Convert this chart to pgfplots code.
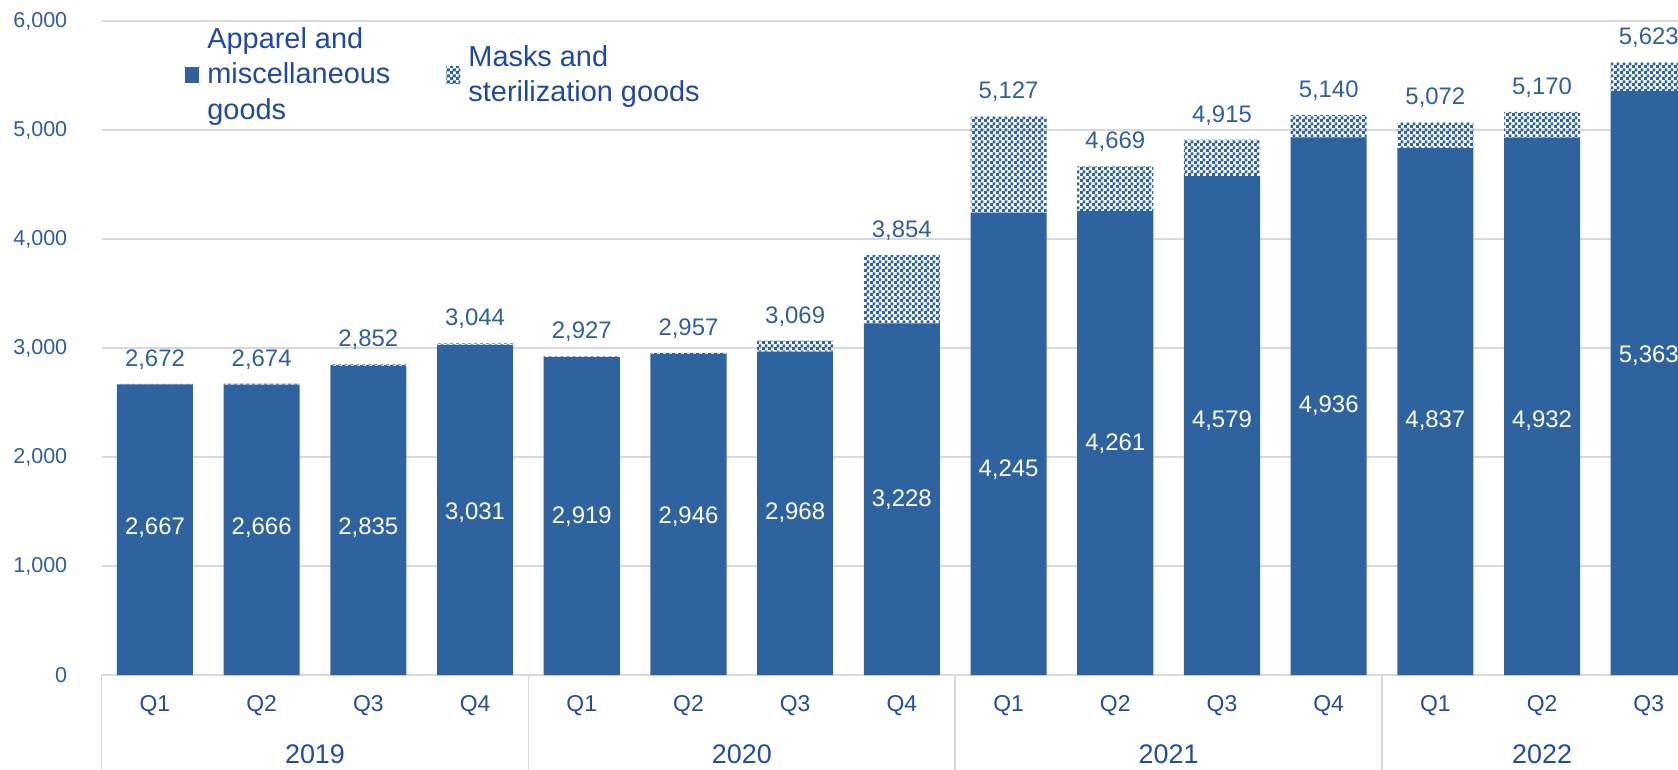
\documentclass[border=0pt]{standalone}
\usepackage{fontspec}
\setmainfont{Liberation Sans}
\usepackage{pgfplots}
\pgfplotsset{compat=1.18}
\usepackage{pgfplotstable}
\usetikzlibrary{patterns}

\definecolor{barblue}{RGB}{47,99,160}
\definecolor{labelblue}{RGB}{47,95,158}
\definecolor{catblue}{RGB}{33,76,160}
\definecolor{legblue}{RGB}{31,72,162}
\definecolor{gridgray}{RGB}{217,217,217}

\pgfdeclarepatternformonly{smallchecker}{\pgfpointorigin}{\pgfpoint{3bp}{3bp}}{\pgfpoint{3bp}{3bp}}{%
  \pgfpathrectangle{\pgfpointorigin}{\pgfpoint{1.7bp}{1.7bp}}%
  \pgfpathrectangle{\pgfpoint{1.5bp}{1.5bp}}{\pgfpoint{1.7bp}{1.7bp}}%
  \pgfusepath{fill}}

% x, apparel, masks, total, height of the inner label
\pgfplotstableread{
x apparel masks total ly
0 2667 5 2672 1356
1 2666 8 2674 1356
2 2835 17 2852 1356
3 3031 13 3044 1493
4 2919 8 2927 1454
5 2946 11 2957 1454
6 2968 101 3069 1493
7 3228 626 3854 1611
8 4245 882 5127 1886
9 4261 408 4669 2122
10 4579 336 4915 2338
11 4936 204 5140 2475
12 4837 235 5072 2338
13 4932 238 5170 2338
14 5363 260 5623 2927
}\datatable

\begin{document}
\begin{tikzpicture}
\begin{axis}[
  name=ax,
  scale only axis,
  width=788.2bp, height=326.8bp,
  ybar stacked,
  bar width=0.713,
  xmin=-0.5, xmax=14.274,
  ymin=0, ymax=6000,
  ytick={0,1000,...,6000},
  xtick={0,...,14},
  xticklabels={Q1,Q2,Q3,Q4,Q1,Q2,Q3,Q4,Q1,Q2,Q3,Q4,Q1,Q2,Q3},
  major tick length=0pt,
  axis line style={draw=none},
  ymajorgrids,
  major grid style={gridgray, line width=0.9bp},
  clip=false,
  /pgf/number format/.cd, 1000 sep={,}, assume math mode=true,
  /pgfplots/.cd,
  yticklabel style={font=\fontsize{10.8}{12}\selectfont, text=labelblue, anchor=east, inner sep=0pt, xshift=-17bp},
  xticklabel style={font=\fontsize{11.5}{13}\selectfont, text=catblue, anchor=center, inner sep=0pt, yshift=-15.5bp},
  legend style={at={(axis description cs:0.0529,0.918)}, anchor=west, draw=none, fill=none,
    inner sep=0pt, font=\fontsize{14.5}{17.7}\selectfont, text=legblue,
    nodes={align=left, inner xsep=4bp, inner ysep=1bp},
    /tikz/every even column/.append style={column sep=24bp}},
  legend columns=2,
  legend cell align=left,
  legend image code/.code={\fill[#1] (0bp,-4.2bp) rectangle (7bp,4.2bp);},
]
\addplot[fill=barblue, draw=none] table[x=x, y=apparel] {\datatable};
\addplot[pattern=smallchecker, pattern color=barblue, draw=none] table[x=x, y=masks] {\datatable};
\legend{{Apparel and\\miscellaneous\\goods},{Masks and\\sterilization goods}}

\foreach \s in {-0.5,3.5,7.5,11.5}{
  \edef\tmp{\noexpand\draw[gridgray, line width=0.9bp] (axis cs:\s,0) -- ([yshift=-47.5bp]axis cs:\s,0);}\tmp
}
\node[font=\fontsize{13.5}{15}\selectfont, text=catblue, inner sep=0pt, yshift=-39.5bp] at (axis cs:1.5,0) {2019};
\node[font=\fontsize{13.5}{15}\selectfont, text=catblue, inner sep=0pt, yshift=-39.5bp] at (axis cs:5.5,0) {2020};
\node[font=\fontsize{13.5}{15}\selectfont, text=catblue, inner sep=0pt, yshift=-39.5bp] at (axis cs:9.5,0) {2021};
\node[font=\fontsize{13.5}{15}\selectfont, text=catblue, inner sep=0pt, yshift=-39.5bp] at (axis cs:13,0) {2022};
\end{axis}
\begin{axis}[
  at={(ax.south west)}, anchor=south west,
  scale only axis,
  width=788.2bp, height=326.8bp,
  xmin=-0.5, xmax=14.274,
  ymin=0, ymax=6000,
  hide axis, clip=false,
  /pgf/number format/.cd, 1000 sep={,}, assume math mode=true,
  /pgfplots/.cd,
]
\addplot[draw=none, no markers, nodes near coords, point meta=explicit,
  every node near coord/.append style={font=\fontsize{12}{14}\selectfont, text=white, anchor=center, inner sep=0pt}]
  table[x=x, y=ly, meta=apparel] {\datatable};
\addplot[draw=none, no markers, nodes near coords, point meta=explicit,
  every node near coord/.append style={font=\fontsize{12}{14}\selectfont, text=labelblue, anchor=center, inner sep=0pt, yshift=12.2bp}]
  table[x=x, y=total, meta=total] {\datatable};
\end{axis}
\pgfresetboundingbox
\path ([shift={(-50.8bp,-47.5bp)}]ax.south west) rectangle ([shift={(0bp,10.7bp)}]ax.north east);
\end{tikzpicture}
\end{document}
